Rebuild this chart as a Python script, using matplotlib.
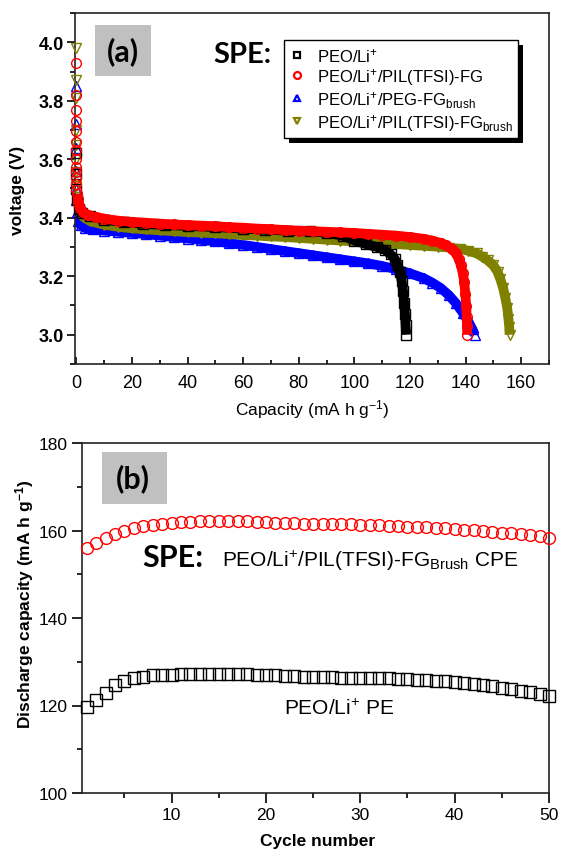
import matplotlib
matplotlib.use('Agg')
import matplotlib.pyplot as plt
import numpy as np
from matplotlib.patches import Rectangle
from matplotlib.lines import Line2D
from matplotlib.ticker import MultipleLocator

plt.rcParams['font.family'] = ['Liberation Sans', 'DejaVu Sans']
plt.rcParams['mathtext.default'] = 'regular'

# -------------------------------------------------------
# (a) discharge curves: capacity (mA h g-1) vs voltage (V)
# -------------------------------------------------------
cap_peo = [0, 0, 0, 0.3, 1, 2, 5, 10, 17, 24, 32, 40, 50, 60, 68, 76, 84, 90,
           96, 100, 104, 108, 111, 113, 114.5, 115.5, 116.3, 117, 117.5, 117.9,
           118.2, 118.4, 118.6]
v_peo = [3.62, 3.55, 3.50, 3.46, 3.43, 3.415, 3.405, 3.393, 3.385, 3.379, 3.375,
         3.372, 3.368, 3.363, 3.359, 3.356, 3.353, 3.349, 3.338, 3.322, 3.31, 3.300,
         3.29, 3.275, 3.26, 3.24, 3.215, 3.185, 3.15, 3.11, 3.07, 3.035, 3.0]

cap_pil = [0, 0, 0, 0, 0, 0, 0, 0, 0, 0, 0, 0, 0, 0.2, 0.4, 0.7, 1.2, 2.3, 4, 7,
           10, 15, 20, 25, 30, 35, 40, 45, 50, 55, 60, 65, 70, 75, 80, 85, 90, 95,
           100, 105, 110, 115, 120, 125, 128, 131, 133, 135, 136.5, 137.5, 138.3,
           139, 139.5, 139.9, 140.2, 140.4, 140.5, 140.6]
v_pil = [3.93, 3.82, 3.77, 3.73, 3.695, 3.66, 3.63, 3.60, 3.575, 3.555, 3.535,
         3.515, 3.495, 3.48, 3.465, 3.45, 3.435, 3.42, 3.41, 3.403, 3.397, 3.39,
         3.386, 3.383, 3.38, 3.377, 3.375, 3.373, 3.371, 3.368, 3.366, 3.363,
         3.361, 3.358, 3.356, 3.354, 3.352, 3.35, 3.348, 3.345, 3.342, 3.339,
         3.334, 3.328, 3.322, 3.314, 3.306, 3.294, 3.278, 3.26, 3.238, 3.21,
         3.18, 3.14, 3.10, 3.06, 3.03, 3.0]

cap_peg = [0, 0, 0, 0, 0, 0, 0.3, 0.7, 1.5, 3, 6, 10, 15, 20, 25, 30, 35, 40, 45,
           50, 55, 60, 65, 70, 75, 80, 85, 90, 95, 100, 105, 110, 115, 120, 125,
           128, 131, 134, 136.5, 139, 141, 142.5, 143.3]
v_peg = [3.85, 3.72, 3.64, 3.56, 3.50, 3.46, 3.42, 3.39, 3.375, 3.365, 3.36,
         3.356, 3.352, 3.348, 3.344, 3.339, 3.334, 3.329, 3.324, 3.319, 3.313,
         3.307, 3.30, 3.293, 3.286, 3.279, 3.272, 3.265, 3.258, 3.251, 3.244,
         3.235, 3.224, 3.21, 3.193, 3.178, 3.16, 3.135, 3.108, 3.075, 3.045,
         3.018, 3.0]

cap_brush = [0, 0, 0, 0, 0, 0, 0, 0, 0.3, 0.7, 1.5, 2.5, 5, 10, 15, 20, 25, 30,
             35, 40, 45, 50, 55, 60, 65, 70, 75, 80, 85, 90, 95, 100, 105, 110,
             115, 120, 125, 130, 134, 138, 141, 144, 146, 148, 150, 151.5, 152.5,
             153.5, 154.3, 155, 155.4, 155.7, 155.8]
v_brush = [3.98, 3.87, 3.81, 3.70, 3.65, 3.60, 3.555, 3.51, 3.47, 3.44, 3.415,
           3.403, 3.388, 3.376, 3.369, 3.364, 3.36, 3.357, 3.354, 3.351, 3.349,
           3.347, 3.344, 3.341, 3.339, 3.336, 3.334, 3.331, 3.328, 3.325, 3.322,
           3.319, 3.316, 3.313, 3.31, 3.307, 3.304, 3.301, 3.298, 3.293, 3.287,
           3.278, 3.267, 3.254, 3.237, 3.215, 3.19, 3.16, 3.125, 3.09, 3.055,
           3.025, 3.0]

labels_a = ['PEO/Li$^{+}$', 'PEO/Li$^{+}$/PIL(TFSI)-FG',
            'PEO/Li$^{+}$/PEG-FG$_{brush}$', 'PEO/Li$^{+}$/PIL(TFSI)-FG$_{brush}$']

# -------------------------------------------------------
# (b) cycling
# -------------------------------------------------------
cycles = list(range(1, 51))
q_pe = [119.6, 121.3, 122.8, 124.6, 125.5, 126.2, 126.6, 126.9, 127.0, 127.0,
        127.1, 127.2, 127.3, 127.3, 127.3, 127.2, 127.2, 127.1, 127.0, 126.9,
        126.9, 126.8, 126.7, 126.6, 126.6, 126.5, 126.5, 126.4, 126.4, 126.3,
        126.3, 126.2, 126.2, 126.1, 126.0, 125.9, 125.8, 125.6, 125.5, 125.3,
        125.1, 124.9, 124.6, 124.4, 124.1, 123.8, 123.4, 123.0, 122.6, 122.1]
q_cpe = [156.1, 157.2, 158.3, 159.2, 160.0, 160.6, 161.0, 161.3, 161.6, 161.8,
         161.9, 162.0, 162.1, 162.1, 162.2, 162.1, 162.1, 162.1, 162.0, 161.9,
         161.8, 161.8, 161.7, 161.6, 161.6, 161.5, 161.5, 161.4, 161.4, 161.3,
         161.3, 161.2, 161.1, 161.0, 160.9, 160.8, 160.7, 160.6, 160.5, 160.3,
         160.2, 160.1, 159.9, 159.7, 159.5, 159.4, 159.2, 158.9, 158.7, 158.4]

W, H = 567, 853
fig = plt.figure(figsize=(W / 100, H / 100), dpi=100)
ax1 = fig.add_axes([75 / W, 1 - 365 / H, 474 / W, 351 / H])
ax2 = fig.add_axes([82 / W, 1 - 794 / H, 467 / W, 350 / H])

# --- panel (a)
serien = [
    (cap_peg, v_peg, '#0000ff', '^', 2),
    (cap_brush, v_brush, '#808000', 'v', 3),
    (cap_peo, v_peo, '#000000', 's', 4),
    (cap_pil, v_pil, '#ff0000', 'o', 5),
]
for cap, v, c, m, z in serien:
    cap = np.array(cap)
    v = np.array(v)
    band = cap > 0.1
    ax1.plot(cap[band], v[band], '-', color=c, lw=7, solid_capstyle='butt', zorder=z)
    ax1.plot(cap, v, ls='none', marker=m, ms=7, mfc='none', mec=c, mew=1,
             zorder=z, clip_on=False)

ax1.set_xlim(-0.5, 170)
ax1.set_ylim(2.9, 4.1)
ax1.xaxis.set_major_locator(MultipleLocator(20))
ax1.xaxis.set_minor_locator(MultipleLocator(10))
ax1.yaxis.set_minor_locator(MultipleLocator(0.1))
ax1.set_yticks(np.arange(3.0, 4.01, 0.2))
ax1.tick_params(axis='x', which='major', direction='in', length=5, width=1.2,
                labelsize=13, pad=7)
ax1.tick_params(axis='x', which='minor', direction='in', length=3, width=1.2)
ax1.tick_params(axis='y', which='major', direction='out', length=6, width=1.2,
                labelsize=13, pad=2)
ax1.tick_params(axis='y', which='minor', direction='out', length=3.5, width=1.2)
for t in ax1.get_yticklabels():
    t.set_fontweight('bold')

handles = [Line2D([], [], ls='none', marker=m, ms=5, mfc='none', mec=c, mew=1.6)
           for m, c in [('s', 'k'), ('o', '#ff0000'), ('^', '#0000ff'), ('v', '#808000')]]
leg = ax1.legend(handles, labels_a, loc='upper left', bbox_to_anchor=(0.441, 0.923),
                 fontsize=12, frameon=True, fancybox=False, edgecolor='black',
                 framealpha=1, borderpad=0.35, handlelength=0.8, handletextpad=0.8,
                 labelspacing=0.12, borderaxespad=0)
leg.get_frame().set_linewidth(1)
leg.set_zorder(10)

ax1.add_patch(Rectangle((0.042, 0.8205), 0.118, 0.1453, transform=ax1.transAxes,
                        facecolor='#c0c0c0', edgecolor='none', zorder=1))
ax1.text(0.1013, 0.893, '(a)', transform=ax1.transAxes, ha='center', va='center',
         fontsize=22, fontweight='bold', family=['Lato', 'DejaVu Sans'], zorder=2)
ax1.text(0.291, 0.86, 'SPE:', transform=ax1.transAxes, ha='left', va='baseline',
         fontsize=21, fontweight='bold', family=['Lato', 'DejaVu Sans'], zorder=2)

# --- panel (b)
ax2.plot(cycles, q_pe, ls='none', marker='s', ms=9, mfc='none', mec='k', mew=1,
         clip_on=False, zorder=3)
ax2.plot(cycles, q_cpe, ls='none', marker='o', ms=8.5, mfc='none', mec='#ff0000',
         mew=1, clip_on=False, zorder=3)
ax2.set_xlim(0.5, 50)
ax2.set_ylim(100, 180)
ax2.set_xticks([10, 20, 30, 40, 50])
ax2.xaxis.set_minor_locator(MultipleLocator(5))
ax2.yaxis.set_major_locator(MultipleLocator(20))
ax2.yaxis.set_minor_locator(MultipleLocator(10))
ax2.tick_params(which='major', direction='out', length=7, width=1.2, labelsize=12.5,
                pad=3)
ax2.tick_params(which='minor', direction='out', length=3.5, width=1.2)

ax2.add_patch(Rectangle((0.0428, 0.826), 0.139, 0.1486, transform=ax2.transAxes,
                        facecolor='#c0c0c0', edgecolor='none', zorder=1))
ax2.text(0.109, 0.9, '(b)', transform=ax2.transAxes, ha='center', va='center',
         fontsize=22, fontweight='bold', family=['Lato', 'DejaVu Sans'], zorder=2)
ax2.text(6.9, 151.9, 'SPE:', ha='left', va='baseline', fontsize=22,
         fontweight='bold', family=['Lato', 'DejaVu Sans'])
ax2.text(15.3, 151.9, 'PEO/Li$^{+}$/PIL(TFSI)-FG$_{Brush}$ CPE', ha='left',
         va='baseline', fontsize=15)
ax2.text(27.7, 119.4, 'PEO/Li$^{+}$ PE', ha='center', va='center', fontsize=15)

for ax in (ax1, ax2):
    for s in ax.spines.values():
        s.set_linewidth(1.2)
        s.set_color('#222222')

# axis titles
fig.text(18 / W, 1 - 190 / H, 'voltage (V)', rotation=90, ha='center', va='center',
         fontsize=12.5, fontweight='bold')
fig.text(312 / W, 1 - 410 / H, 'Capacity (mA h g$^{-1}$)', ha='center', va='center',
         fontsize=12.5)
fig.text(25 / W, 1 - 604 / H, 'Discharge capacity (mA h g$^{-1}$)', rotation=90,
         ha='center', va='center', fontsize=12.5, fontweight='bold')
fig.text(318 / W, 1 - 842 / H, 'Cycle number', ha='center', va='center',
         fontsize=12.5, fontweight='bold')

# legend shadow
fig.canvas.draw()
bb = leg.get_window_extent().transformed(ax1.transAxes.inverted())
dx = 5 / 474
dy = 5 / 351
ax1.add_patch(Rectangle((bb.x0 + dx, bb.y0 - dy), bb.width, bb.height,
                        transform=ax1.transAxes, facecolor='black', edgecolor='none',
                        zorder=9, clip_on=False))

fig.savefig('out.png', dpi=100)
